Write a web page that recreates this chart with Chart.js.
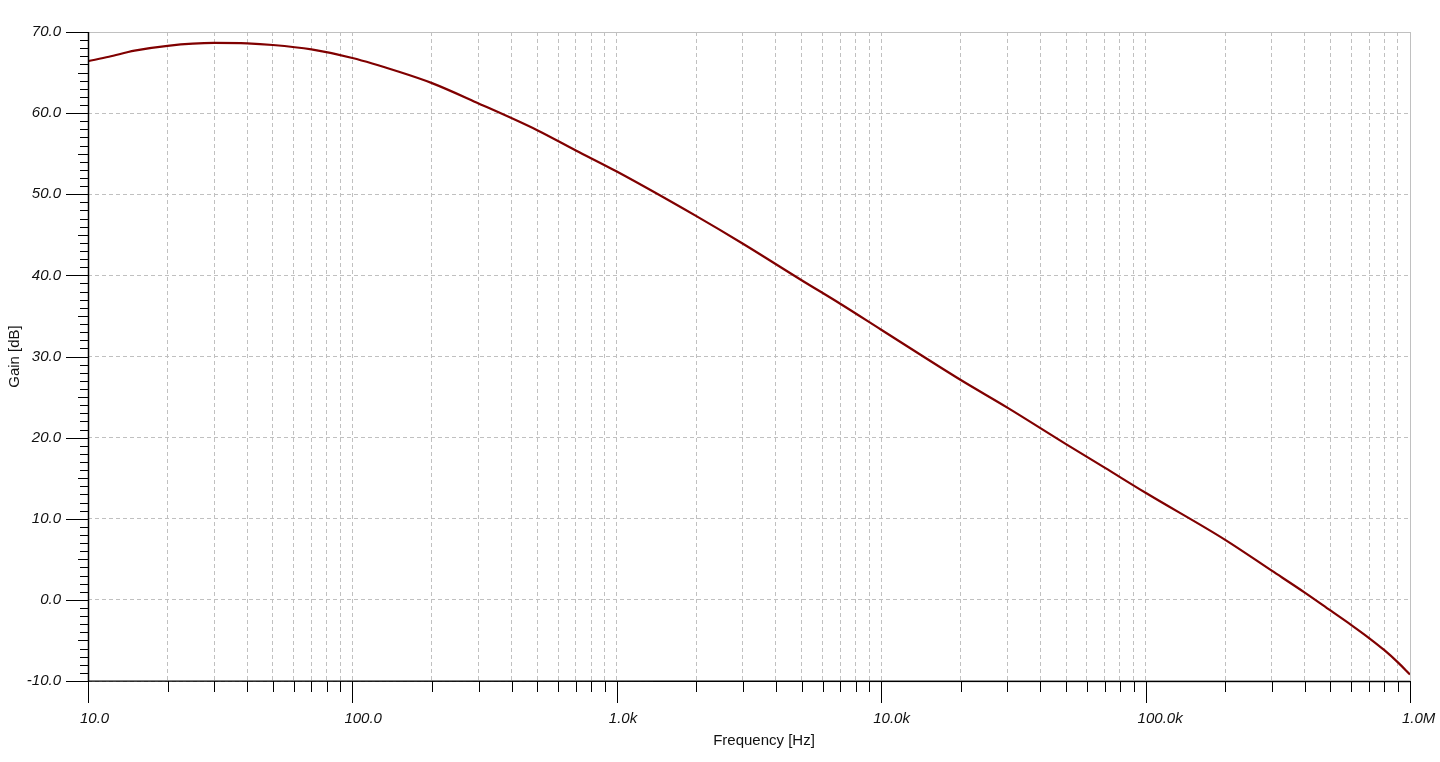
<!DOCTYPE html>
<html>
<head>
<meta charset="utf-8">
<script src="https://cdn.jsdelivr.net/npm/chart.js@4.4.1/dist/chart.umd.min.js"></script>
<style>
body { margin: 0; background: #fff; }
</style>
</head>
<body>
<canvas id="myChart" width="1440" height="762"></canvas>
<script>
// frequency response
var freqs = [10, 12, 15, 20, 30, 40, 50, 70, 100, 150, 200, 300, 500, 700,
    1000, 2000, 3000, 5000, 7000, 10000, 20000, 30000, 50000, 70000,
    100000, 200000, 300000, 400000, 500000, 600000, 700000, 800000, 900000, 1000000];
var gains = [66.4, 66.95, 67.7, 68.3, 68.65, 68.6, 68.4, 67.85, 66.8, 65.1, 63.7, 61.2, 57.9, 55.4,
    52.8, 47.3, 43.9, 39.4, 36.5, 33.3, 27.1, 23.7, 19.2, 16.3,
    13.2, 7.4, 3.6, 0.9, -1.3, -3.1, -4.7, -6.2, -7.7, -9.2];
var decades = [10, 100, 1000, 10000, 100000, 1000000];
var decadeLabels = ['10.0', '100.0', '1.0k', '10.0k', '100.0k', '1.0M'];
var yMin = -10, yMax = 70, yStep = 10;
var xTitle = 'Frequency [Hz]';

var xTicks = [];
for (var i = 0; i < decades.length - 1; i++) {
    for (var k = 1; k < 10; k++) xTicks.push(k * decades[i]);
}
xTicks.push(decades[decades.length - 1]);

var points = [];
for (var i = 0; i < freqs.length; i++) points.push({x: freqs[i], y: gains[i]});

var font = 'Liberation Sans, Arial, sans-serif';

var axisTicks = {
    id: 'axisTicks',
    afterDraw: function(chart) {
        var ctx = chart.ctx, a = chart.chartArea;
        var xs = chart.scales.x, ys = chart.scales.y;
        ctx.save();
        // grey frame top / right
        ctx.strokeStyle = '#c0c0c0';
        ctx.lineWidth = 1;
        ctx.beginPath();
        ctx.moveTo(a.left, Math.round(a.top) + 0.5);
        ctx.lineTo(Math.round(a.right) + 0.5, Math.round(a.top) + 0.5);
        ctx.lineTo(Math.round(a.right) + 0.5, a.bottom);
        ctx.stroke();
        // tick marks
        ctx.strokeStyle = '#000';
        ctx.beginPath();
        for (var v = yMin; v <= yMax; v++) {
            var py = Math.round(ys.getPixelForValue(v)) + 0.5;
            var len = v % 10 == 0 ? 22 : (v % 5 == 0 ? 10 : 8);
            ctx.moveTo(a.left - len, py);
            ctx.lineTo(a.left, py);
        }
        xTicks.forEach(function(f) {
            var px = Math.round(xs.getPixelForValue(f)) + 0.5;
            var len = decades.indexOf(f) >= 0 ? 22 : 11;
            ctx.moveTo(px, a.bottom);
            ctx.lineTo(px, a.bottom + len);
        });
        ctx.stroke();
        // axis lines
        ctx.lineWidth = 1.5;
        ctx.beginPath();
        ctx.moveTo(Math.round(a.left) + 0.5, a.top);
        ctx.lineTo(Math.round(a.left) + 0.5, a.bottom);
        ctx.lineTo(a.right, Math.round(a.bottom) + 0.5);
        ctx.stroke();
        // x axis title, sits a little right of centre in the original
        ctx.fillStyle = '#111';
        ctx.font = '15px ' + font;
        ctx.textAlign = 'center';
        ctx.textBaseline = 'middle';
        ctx.fillText(xTitle, (a.left + a.right) / 2 + 15, 741);
        ctx.restore();
    }
};

var ctx = document.getElementById('myChart').getContext('2d');
var myChart = new Chart(ctx, {
    type: 'line',
    data: {
        datasets: [{
            label: 'Gain',
            data: points,
            borderColor: '#800000',
            borderWidth: 2.2,
            pointRadius: 0,
            fill: false,
            cubicInterpolationMode: 'monotone'
        }]
    },
    options: {
        responsive: false,
        animation: false,
        layout: { padding: { top: 32, right: 30, left: 0, bottom: 0 } },
        plugins: { legend: { display: false }, tooltip: { enabled: false } },
        scales: {
            x: {
                type: 'logarithmic',
                min: decades[0],
                max: decades[decades.length - 1],
                afterFit: function(s) {
                    s.height = 81;
                    s.paddingLeft = 0;
                    s.paddingRight = 0;
                },
                afterBuildTicks: function(s) {
                    s.ticks = xTicks.map(function(v) { return {value: v, major: decades.indexOf(v) >= 0}; });
                },
                grid: { color: '#c0c0c0', drawTicks: false, lineWidth: 1 },
                border: { display: false, dash: [4, 3] },
                ticks: {
                    autoSkip: false,
                    maxRotation: 0,
                    align: 'start',
                    labelOffset: -8,
                    padding: 29,
                    color: '#111',
                    font: { family: font, size: 15, style: 'italic' },
                    callback: function(v) {
                        var i = decades.indexOf(v);
                        return i >= 0 ? decadeLabels[i] : '';
                    }
                }
            },
            y: {
                min: yMin,
                max: yMax,
                afterFit: function(s) {
                    s.width = 88;
                    s.paddingTop = 0;
                    s.paddingBottom = 0;
                },
                grid: { color: '#c0c0c0', drawTicks: false, lineWidth: 1 },
                border: { display: false, dash: [4, 3] },
                ticks: {
                    stepSize: yStep,
                    padding: 27,
                    color: '#111',
                    font: { family: font, size: 15, style: 'italic' },
                    callback: function(v) { return v.toFixed(1); }
                },
                title: {
                    display: true,
                    text: 'Gain [dB]',
                    color: '#111',
                    font: { family: font, size: 15 },
                    padding: { top: 6, bottom: 0 }
                }
            }
        }
    },
    plugins: [axisTicks]
});
</script>
</body>
</html>
